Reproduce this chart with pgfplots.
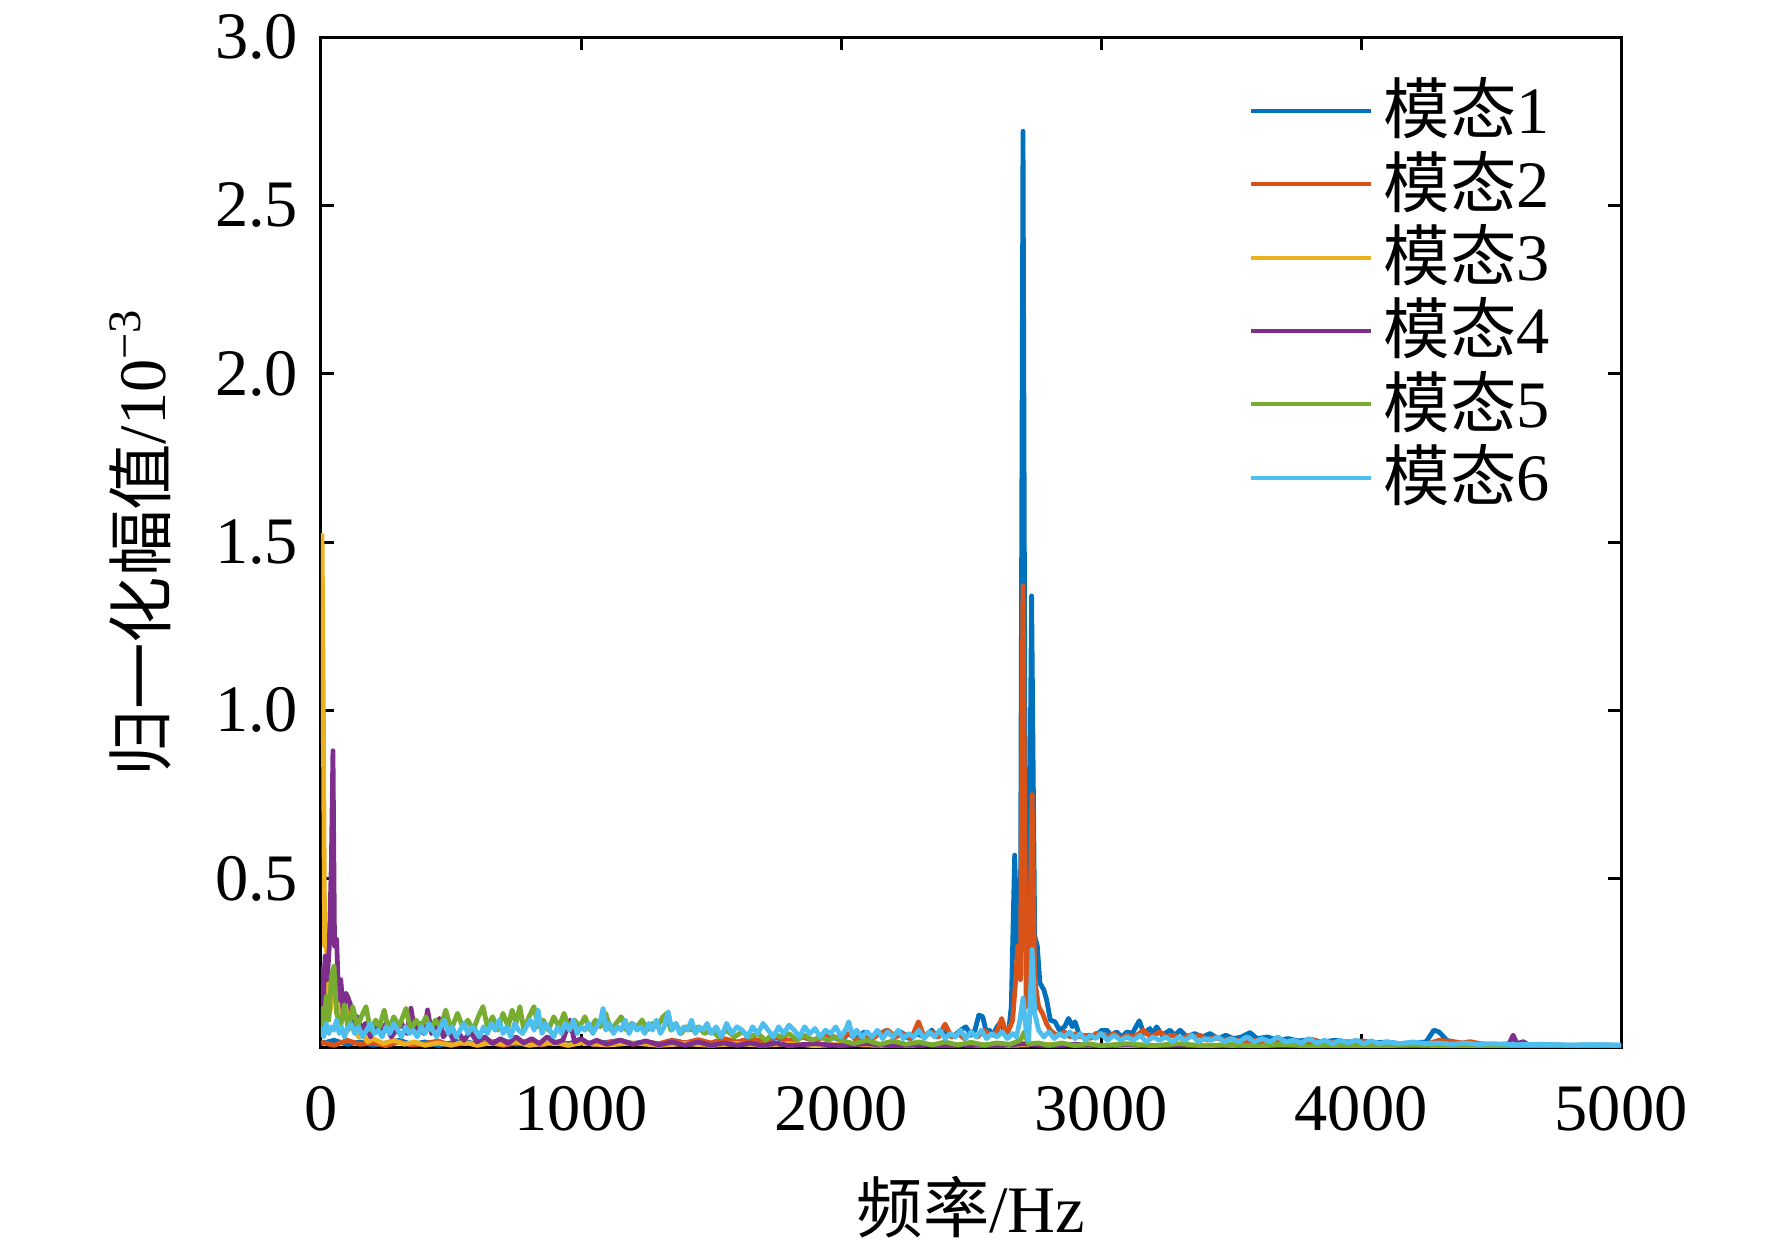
\documentclass[border=0pt]{standalone}
\usepackage{pgfplots}
\pgfplotsset{compat=1.18}
\usepackage{fontspec}
\setmainfont{Liberation Serif}
\newfontfamily\cjk{Noto Sans CJK SC}
\definecolor{c1}{HTML}{0072BD}
\definecolor{c2}{HTML}{D95319}
\definecolor{c3}{HTML}{EDB120}
\definecolor{c4}{HTML}{7E2F8E}
\definecolor{c5}{HTML}{77AC30}
\definecolor{c6}{HTML}{4DBEEE}
\begin{document}
\fontsize{16.6}{19.9}\selectfont
\begin{tikzpicture}
\path[use as bounding box] (-80.25pt,-49.5pt) rectangle (362.75pt,261.75pt);
\begin{axis}[
  scale only axis, width=325pt, height=252.5pt, at={(0,0)}, anchor=south west,
  xmin=0, xmax=5000, ymin=0, ymax=3,
  xtick={0,1000,2000,3000,4000,5000},
  ytick={0.5,1,1.5,2,2.5,3},
  tick align=inside, xtick pos=both, ytick pos=both,
  major tick length=3.25pt,
  axis line style={line width=0.75pt},
  every tick/.style={black, line width=0.75pt},
  /pgf/number format/assume math mode=true,
  scaled ticks=false,
  y tick label style={/pgf/number format/.cd, fixed, fixed zerofill, precision=1, /tikz/.cd},
  x tick label style={/pgf/number format/.cd, 1000 sep={}, /tikz/.cd, yshift=-4pt},
  xlabel={{\cjk 频率}/Hz},
  ylabel={{\cjk 归一化幅值}/10\textsuperscript{\char"2212 3}},
  xlabel style={at={(axis description cs:0.5,-0.1267)}, anchor=north, inner sep=0pt},
  ylabel style={at={(axis description cs:-0.1146,0.5)}, anchor=south, inner sep=0pt},
  legend style={draw=none, fill=none, at={(axis description cs:0.7135,0.9564)}, anchor=north west,
    inner sep=0pt, row sep=0pt, column sep=2.6pt,
    nodes={inner sep=0pt, text height=13pt, text depth=5.33pt}},
  legend cell align=left,
  legend image code/.code={\draw[#1, line width=1pt] (0pt,1.9pt) -- (30pt,1.9pt);},
  every axis plot/.append style={line width=1.2pt, line join=round, mark=none},
]
% mode 1
\addplot[c1] coordinates {
(0,0.01) (50,0.02) (100,0.008) (150,0.015) (200,0.006) (250,0.012) (300,0.02) (350,0.008) (400,0.015) (450,0.005)
(500,0.012) (550,0.018) (600,0.007) (650,0.014) (700,0.02) (750,0.008) (800,0.012) (850,0.006) (900,0.015) (950,0.01)
(1000,0.018) (1050,0.008) (1100,0.014) (1150,0.02) (1200,0.01) (1250,0.016) (1300,0.008) (1350,0.02) (1400,0.012) (1450,0.018)
(1500,0.01) (1550,0.022) (1600,0.012) (1650,0.025) (1700,0.015) (1750,0.028) (1800,0.018) (1850,0.03) (1900,0.02) (1950,0.035)
(2000,0.02) (2030,0.04) (2060,0.025) (2090,0.045) (2120,0.03) (2150,0.04) (2176,0.05) (2200,0.03) (2230,0.045) (2260,0.025)
(2290,0.04) (2320,0.03) (2349,0.05) (2370,0.03) (2400,0.045) (2430,0.03) (2460,0.05) (2480,0.06) (2500,0.035) (2515,0.05)
(2530,0.095) (2545,0.09) (2560,0.04) (2571,0.05) (2585,0.035) (2600,0.06) (2615,0.075) (2630,0.04) (2645,0.05) (2655,0.12)
(2663,0.4) (2668,0.57) (2680,0.25) (2690,0.3) (2700,2.72) (2710,0.3) (2720,0.15) (2733,1.34) (2745,0.33) (2755,0.3)
(2765,0.19) (2780,0.17) (2791,0.14) (2805,0.08) (2823,0.075) (2840,0.05) (2860,0.06) (2875,0.085) (2890,0.06) (2900,0.075)
(2915,0.04) (2935,0.03) (2955,0.035) (2975,0.03) (3003,0.05) (3022,0.05) (3040,0.035) (3060,0.045) (3080,0.03) (3100,0.045)
(3120,0.04) (3147,0.078) (3165,0.04) (3188,0.055) (3200,0.04) (3214,0.06) (3235,0.035) (3265,0.05) (3285,0.035) (3304,0.05)
(3330,0.03) (3360,0.04) (3390,0.03) (3419,0.04) (3450,0.025) (3480,0.035) (3510,0.025) (3540,0.03) (3573,0.043) (3600,0.025)
(3640,0.03) (3680,0.02) (3720,0.025) (3760,0.018) (3800,0.022) (3850,0.015) (3900,0.02) (3950,0.015) (4000,0.018) (4050,0.012)
(4100,0.015) (4150,0.01) (4200,0.012) (4250,0.015) (4280,0.05) (4300,0.045) (4330,0.02) (4370,0.012) (4420,0.01) (4500,0.008)
(4600,0.006) (4700,0.007) (4800,0.005) (4900,0.006) (5000,0.005)
};
\addlegendentry{{\cjk 模态}1}
% mode 2
\addplot[c2] coordinates {
(0,0.015) (50,0.005) (100,0.02) (150,0.008) (200,0.012) (250,0.004) (300,0.015) (350,0.006) (400,0.01) (450,0.018)
(500,0.005) (550,0.012) (600,0.008) (650,0.015) (700,0.005) (750,0.012) (800,0.018) (850,0.007) (900,0.013) (950,0.005)
(1000,0.015) (1050,0.008) (1100,0.012) (1150,0.02) (1200,0.008) (1250,0.015) (1300,0.01) (1350,0.02) (1400,0.012) (1450,0.022)
(1500,0.012) (1550,0.025) (1600,0.015) (1650,0.025) (1700,0.018) (1750,0.03) (1800,0.02) (1850,0.03) (1900,0.02) (1950,0.035)
(2000,0.025) (2030,0.04) (2060,0.02) (2090,0.035) (2120,0.025) (2150,0.04) (2180,0.05) (2210,0.03) (2240,0.04) (2270,0.025)
(2298,0.075) (2320,0.03) (2350,0.045) (2375,0.03) (2400,0.068) (2425,0.03) (2450,0.04) (2475,0.025) (2500,0.045) (2525,0.03)
(2550,0.05) (2575,0.035) (2600,0.045) (2618,0.085) (2635,0.04) (2650,0.06) (2660,0.08) (2670,0.18) (2680,0.30) (2690,0.2)
(2700,1.37) (2712,0.12) (2722,0.15) (2735,0.75) (2745,0.2) (2760,0.12) (2775,0.1) (2790,0.07) (2805,0.05) (2820,0.04)
(2840,0.035) (2860,0.045) (2880,0.03) (2900,0.04) (2920,0.03) (2940,0.035) (2960,0.025) (2980,0.04) (3000,0.04) (3025,0.03)
(3050,0.04) (3075,0.025) (3100,0.035) (3130,0.03) (3163,0.05) (3190,0.03) (3227,0.045) (3250,0.03) (3280,0.035) (3310,0.025)
(3342,0.035) (3360,0.03) (3380,0.035) (3410,0.02) (3440,0.03) (3470,0.02) (3500,0.025) (3550,0.015) (3600,0.02) (3650,0.012)
(3700,0.018) (3750,0.012) (3816,0.022) (3850,0.012) (3900,0.015) (3950,0.01) (4009,0.018) (4050,0.01) (4100,0.012) (4150,0.008)
(4200,0.01) (4250,0.008) (4300,0.02) (4355,0.016) (4390,0.012) (4420,0.016) (4470,0.008) (4550,0.006) (4650,0.005) (4750,0.004)
(4850,0.005) (5000,0.004)
};
\addlegendentry{{\cjk 模态}2}
% mode 3
\addplot[c3] coordinates {
(0,0.9) (4,1.52) (9,1.0) (14,0.3) (20,0.35) (26,0.12) (33,0.1) (40,0.13) (50,0.18) (62,0.21)
(72,0.1) (82,0.08) (92,0.12) (104,0.15) (115,0.06) (130,0.05) (145,0.03) (160,0.04) (180,0.015) (200,0.025)
(240,0.01) (280,0.02) (320,0.008) (360,0.015) (400,0.005) (450,0.012) (500,0.006) (550,0.015) (600,0.005) (650,0.012)
(700,0.008) (750,0.015) (800,0.005) (850,0.01) (900,0.015) (950,0.005) (1000,0.012) (1100,0.006) (1200,0.012) (1300,0.005)
(1400,0.01) (1500,0.005) (1600,0.01) (1700,0.005) (1800,0.01) (1900,0.004) (2000,0.008) (2200,0.004) (2400,0.008) (2600,0.004)
(2800,0.008) (3000,0.004) (3300,0.006) (3600,0.003) (4000,0.005) (4500,0.003) (5000,0.003)
};
\addlegendentry{{\cjk 模态}3}
% mode 4
\addplot[c4] coordinates {
(0,0.24) (8,0.12) (16,0.27) (24,0.2) (32,0.3) (40,0.55) (46,0.88) (52,0.3) (60,0.32) (68,0.14)
(76,0.2) (86,0.1) (96,0.16) (112,0.13) (125,0.06) (140,0.09) (155,0.05) (170,0.07) (190,0.03) (210,0.06)
(230,0.04) (250,0.07) (270,0.03) (290,0.05) (310,0.07) (330,0.04) (346,0.115) (360,0.05) (380,0.07) (395,0.04)
(410,0.11) (425,0.04) (440,0.06) (455,0.085) (470,0.03) (490,0.05) (510,0.02) (530,0.04) (550,0.02) (575,0.045)
(600,0.015) (630,0.03) (660,0.01) (690,0.025) (720,0.01) (750,0.03) (780,0.012) (810,0.025) (840,0.01) (870,0.03)
(900,0.012) (930,0.02) (958,0.08) (975,0.015) (1000,0.025) (1030,0.01) (1060,0.02) (1100,0.008) (1150,0.02) (1200,0.008)
(1250,0.018) (1300,0.006) (1350,0.015) (1400,0.005) (1450,0.015) (1500,0.005) (1550,0.012) (1600,0.005) (1650,0.012) (1700,0.004)
(1750,0.012) (1800,0.004) (1900,0.01) (2000,0.004) (2100,0.01) (2200,0.003) (2300,0.008) (2400,0.003) (2500,0.008) (2600,0.003)
(2700,0.01) (2800,0.003) (2900,0.008) (3000,0.003) (3100,0.007) (3200,0.003) (3300,0.007) (3400,0.002) (3500,0.006) (3700,0.003)
(3900,0.006) (4100,0.002) (4300,0.005) (4500,0.004) (4570,0.01) (4585,0.035) (4600,0.01) (4624,0.016) (4650,0.003) (4800,0.003)
(5000,0.002)
};
\addlegendentry{{\cjk 模态}4}
% mode 5
\addplot[c5] coordinates {
(0,0.12) (10,0.05) (20,0.15) (30,0.08) (40,0.21) (50,0.24) (60,0.1) (75,0.06) (90,0.125) (105,0.05)
(122,0.12) (140,0.06) (155,0.09) (173,0.12) (190,0.05) (210,0.08) (225,0.06) (243,0.11) (260,0.05) (280,0.09)
(300,0.06) (327,0.115) (345,0.05) (365,0.08) (385,0.06) (404,0.09) (420,0.05) (440,0.08) (460,0.06) (480,0.11)
(500,0.05) (525,0.10) (545,0.06) (565,0.08) (585,0.05) (605,0.09) (623,0.12) (640,0.06) (660,0.09) (680,0.05)
(700,0.1) (720,0.06) (735,0.11) (750,0.07) (765,0.12) (780,0.05) (800,0.09) (819,0.12) (835,0.06) (855,0.08)
(875,0.05) (895,0.09) (915,0.06) (935,0.1) (955,0.05) (975,0.08) (995,0.06) (1015,0.09) (1035,0.05) (1055,0.08)
(1075,0.06) (1095,0.1) (1115,0.05) (1135,0.07) (1155,0.09) (1175,0.05) (1195,0.07) (1215,0.06) (1235,0.08) (1255,0.05)
(1275,0.07) (1295,0.06) (1315,0.09) (1330,0.1) (1345,0.05) (1365,0.07) (1385,0.04) (1405,0.06) (1425,0.05) (1450,0.06)
(1475,0.04) (1500,0.05) (1530,0.03) (1560,0.05) (1590,0.03) (1620,0.045) (1650,0.03) (1680,0.04) (1710,0.02) (1740,0.04)
(1770,0.03) (1800,0.04) (1830,0.02) (1860,0.035) (1890,0.02) (1920,0.03) (1950,0.02) (1980,0.03) (2000,0.02) (2050,0.01)
(2100,0.02) (2150,0.008) (2200,0.018) (2250,0.008) (2300,0.015) (2350,0.006) (2400,0.015) (2450,0.006) (2500,0.014) (2550,0.006)
(2600,0.012) (2650,0.008) (2690,0.02) (2705,0.045) (2720,0.01) (2760,0.012) (2800,0.005) (2850,0.012) (2900,0.004) (2950,0.01)
(3000,0.004) (3100,0.01) (3200,0.004) (3300,0.01) (3400,0.003) (3500,0.008) (3600,0.003) (3700,0.008) (3800,0.003) (3900,0.007)
(4000,0.003) (4200,0.006) (4400,0.003) (4600,0.005) (4800,0.002) (5000,0.002)
};
\addlegendentry{{\cjk 模态}5}
% mode 6
\addplot[c6] coordinates {
(0,0.06) (10,0.03) (20,0.07) (30,0.04) (40,0.06) (50,0.05) (60,0.08) (70,0.04) (80,0.06) (90,0.03)
(100,0.05) (115,0.07) (130,0.04) (145,0.06) (160,0.03) (175,0.05) (190,0.07) (205,0.04) (220,0.05) (235,0.03)
(250,0.06) (265,0.04) (280,0.07) (295,0.05) (310,0.03) (325,0.06) (340,0.04) (355,0.05) (370,0.03) (385,0.06)
(400,0.04) (415,0.07) (430,0.05) (445,0.03) (460,0.06) (475,0.08) (490,0.04) (505,0.06) (520,0.03) (535,0.05)
(550,0.07) (565,0.04) (580,0.06) (595,0.05) (610,0.03) (625,0.06) (640,0.04) (655,0.07) (670,0.05) (685,0.08)
(700,0.04) (715,0.06) (730,0.03) (745,0.07) (760,0.05) (775,0.04) (790,0.06) (805,0.08) (820,0.05) (835,0.11)
(850,0.04) (865,0.07) (880,0.05) (895,0.03) (910,0.06) (925,0.04) (940,0.07) (955,0.05) (970,0.08) (985,0.04)
(1000,0.06) (1015,0.05) (1030,0.07) (1045,0.04) (1060,0.06) (1075,0.08) (1085,0.115) (1095,0.05) (1110,0.07) (1125,0.04)
(1140,0.06) (1155,0.05) (1170,0.08) (1185,0.04) (1200,0.07) (1215,0.05) (1230,0.06) (1245,0.04) (1260,0.07) (1275,0.05)
(1290,0.08) (1305,0.04) (1320,0.06) (1335,0.105) (1350,0.05) (1365,0.07) (1380,0.04) (1395,0.06) (1410,0.05) (1425,0.08)
(1440,0.04) (1455,0.06) (1470,0.05) (1485,0.07) (1500,0.04) (1520,0.06) (1540,0.03) (1560,0.07) (1580,0.04) (1600,0.06)
(1620,0.05) (1640,0.03) (1660,0.06) (1680,0.04) (1700,0.07) (1720,0.05) (1740,0.03) (1760,0.06) (1780,0.04) (1800,0.065)
(1820,0.05) (1840,0.03) (1860,0.06) (1880,0.04) (1900,0.055) (1920,0.03) (1940,0.05) (1960,0.04) (1980,0.06) (2000,0.03)
(2020,0.055) (2030,0.075) (2045,0.03) (2060,0.05) (2080,0.03) (2100,0.045) (2120,0.03) (2140,0.05) (2160,0.025) (2180,0.045)
(2200,0.03) (2220,0.05) (2240,0.025) (2260,0.04) (2280,0.03) (2300,0.05) (2320,0.025) (2340,0.045) (2360,0.03) (2380,0.05)
(2400,0.025) (2420,0.04) (2440,0.03) (2460,0.05) (2480,0.025) (2500,0.045) (2520,0.03) (2540,0.05) (2560,0.025) (2580,0.04)
(2600,0.03) (2620,0.045) (2640,0.025) (2660,0.04) (2675,0.03) (2688,0.08) (2700,0.145) (2712,0.05) (2722,0.02) (2735,0.29)
(2745,0.1) (2760,0.05) (2780,0.03) (2800,0.045) (2820,0.025) (2840,0.04) (2860,0.03) (2880,0.045) (2900,0.025) (2920,0.04)
(2940,0.02) (2960,0.035) (2980,0.025) (3000,0.04) (3025,0.02) (3050,0.035) (3075,0.02) (3100,0.03) (3125,0.02) (3150,0.035)
(3175,0.015) (3200,0.03) (3225,0.02) (3250,0.03) (3275,0.015) (3300,0.03) (3325,0.02) (3350,0.035) (3375,0.015) (3400,0.025)
(3425,0.02) (3450,0.03) (3475,0.015) (3500,0.025) (3530,0.015) (3560,0.03) (3590,0.015) (3620,0.025) (3650,0.015) (3680,0.03)
(3710,0.015) (3740,0.02) (3770,0.012) (3800,0.025) (3830,0.012) (3860,0.02) (3890,0.01) (3920,0.02) (3950,0.012) (3980,0.02)
(4010,0.01) (4040,0.018) (4070,0.01) (4100,0.015) (4150,0.01) (4200,0.015) (4250,0.01) (4300,0.012) (4350,0.008) (4400,0.012)
(4450,0.008) (4500,0.01) (4600,0.007) (4700,0.008) (4800,0.006) (4900,0.007) (5000,0.006)
};
\addlegendentry{{\cjk 模态}6}
\end{axis}
\end{tikzpicture}
\end{document}
